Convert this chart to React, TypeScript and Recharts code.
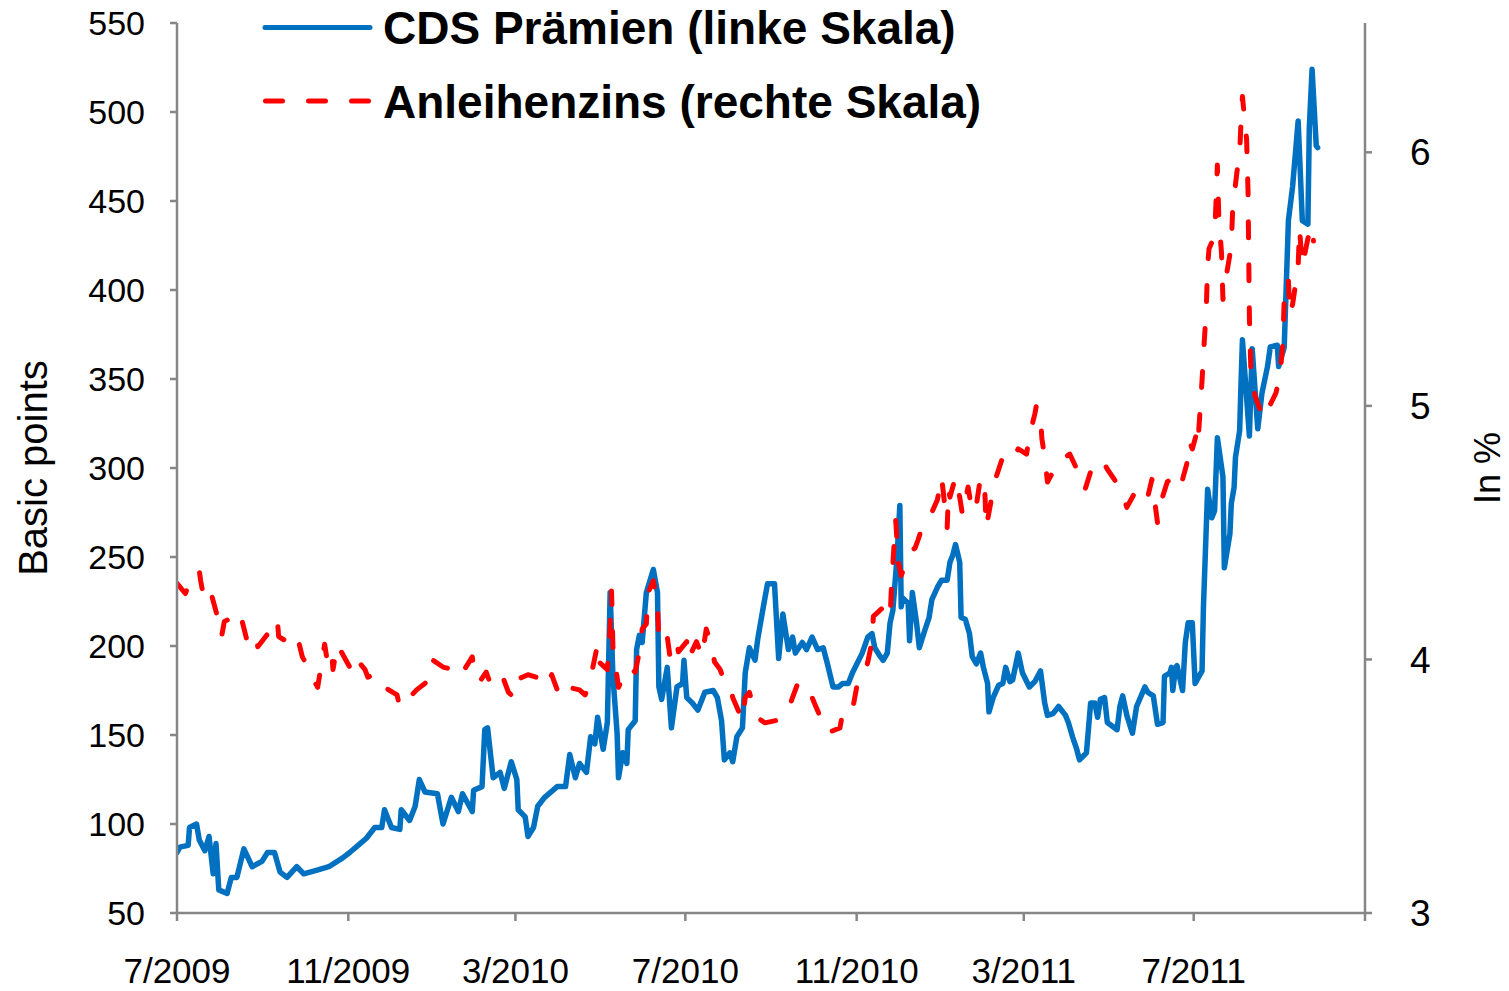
import * as React from "react";
import { LineChart, Line, XAxis, YAxis } from "recharts";

// CDS premiums, basis points (left scale)
const cdsDates = [
  "2009-07-01", "2009-07-03", "2009-07-09", "2009-07-10", "2009-07-15", "2009-07-17", "2009-07-21", "2009-07-24",
  "2009-07-27", "2009-07-29", "2009-07-31", "2009-08-06", "2009-08-09", "2009-08-13", "2009-08-18", "2009-08-24",
  "2009-08-31", "2009-09-04", "2009-09-09", "2009-09-13", "2009-09-18", "2009-09-25", "2009-09-30", "2009-10-09",
  "2009-10-18", "2009-10-28", "2009-11-02", "2009-11-08", "2009-11-14", "2009-11-20", "2009-11-25", "2009-11-27",
  "2009-12-02", "2009-12-08", "2009-12-09", "2009-12-15", "2009-12-19", "2009-12-22", "2009-12-26", "2010-01-04",
  "2010-01-08", "2010-01-14", "2010-01-19", "2010-01-22", "2010-01-29", "2010-01-30", "2010-02-05", "2010-02-07",
  "2010-02-09", "2010-02-13", "2010-02-18", "2010-02-21", "2010-02-26", "2010-03-02", "2010-03-03", "2010-03-08",
  "2010-03-10", "2010-03-14", "2010-03-17", "2010-03-22", "2010-03-31", "2010-04-06", "2010-04-09", "2010-04-13",
  "2010-04-16", "2010-04-21", "2010-04-24", "2010-04-27", "2010-04-29", "2010-05-03", "2010-05-06", "2010-05-08",
  "2010-05-10", "2010-05-13", "2010-05-14", "2010-05-17", "2010-05-20", "2010-05-21", "2010-05-26", "2010-05-27",
  "2010-05-29", "2010-05-31", "2010-06-03", "2010-06-08", "2010-06-11", "2010-06-12", "2010-06-14", "2010-06-18",
  "2010-06-21", "2010-06-25", "2010-06-29", "2010-06-30", "2010-07-02", "2010-07-06", "2010-07-10", "2010-07-15",
  "2010-07-21", "2010-07-24", "2010-07-27", "2010-07-29", "2010-08-02", "2010-08-04", "2010-08-07", "2010-08-11",
  "2010-08-13", "2010-08-16", "2010-08-20", "2010-08-22", "2010-08-26", "2010-08-29", "2010-09-03", "2010-09-06",
  "2010-09-09", "2010-09-13", "2010-09-16", "2010-09-18", "2010-09-23", "2010-09-26", "2010-09-30", "2010-10-04",
  "2010-10-08", "2010-10-11", "2010-10-15", "2010-10-19", "2010-10-22", "2010-10-26", "2010-10-29", "2010-11-05",
  "2010-11-09", "2010-11-12", "2010-11-14", "2010-11-18", "2010-11-20", "2010-11-23", "2010-11-25", "2010-11-27",
  "2010-11-30", "2010-12-02", "2010-12-03", "2010-12-04", "2010-12-08", "2010-12-09", "2010-12-11", "2010-12-14",
  "2010-12-16", "2010-12-20", "2010-12-23", "2010-12-25", "2010-12-29", "2011-01-01", "2011-01-05", "2011-01-07",
  "2011-01-09", "2011-01-11", "2011-01-14", "2011-01-15", "2011-01-18", "2011-01-21", "2011-01-23", "2011-01-26",
  "2011-01-29", "2011-01-31", "2011-02-03", "2011-02-04", "2011-02-07", "2011-02-11", "2011-02-14", "2011-02-16",
  "2011-02-19", "2011-02-21", "2011-02-25", "2011-02-28", "2011-03-05", "2011-03-09", "2011-03-13", "2011-03-16",
  "2011-03-18", "2011-03-22", "2011-03-26", "2011-03-31", "2011-04-02", "2011-04-05", "2011-04-08", "2011-04-10",
  "2011-04-15", "2011-04-18", "2011-04-21", "2011-04-23", "2011-04-25", "2011-04-28", "2011-04-30", "2011-05-07",
  "2011-05-09", "2011-05-11", "2011-05-14", "2011-05-18", "2011-05-21", "2011-05-27", "2011-05-29", "2011-06-02",
  "2011-06-05", "2011-06-09", "2011-06-10", "2011-06-14", "2011-06-15", "2011-06-16", "2011-06-18", "2011-06-19",
  "2011-06-23", "2011-06-25", "2011-06-27", "2011-06-30", "2011-07-02", "2011-07-07", "2011-07-08", "2011-07-11",
  "2011-07-14", "2011-07-16", "2011-07-18", "2011-07-22", "2011-07-23", "2011-07-27", "2011-07-28", "2011-07-30",
  "2011-07-31", "2011-08-03", "2011-08-04", "2011-08-05", "2011-08-10", "2011-08-12", "2011-08-16", "2011-08-19",
  "2011-08-23", "2011-08-25", "2011-08-30", "2011-08-31", "2011-09-03", "2011-09-04", "2011-09-07", "2011-09-10",
  "2011-09-14", "2011-09-17", "2011-09-21", "2011-09-22", "2011-09-24", "2011-09-27", "2011-09-28",
];
const cdsBp = [
  84, 87, 88, 98, 100, 91, 85, 93,
  72, 89, 63, 61, 70, 70, 86, 76,
  79, 84, 84, 73, 70, 76, 72, 74,
  76, 81, 84, 88, 92, 98, 98, 108,
  98, 97, 108, 102, 110, 125, 118, 117,
  100, 115, 107, 117, 107, 119, 121, 153,
  154, 126, 129, 120, 135, 125, 108, 104,
  93, 98, 110, 115, 121, 121, 139, 126,
  134, 129, 149, 145, 160, 142, 157, 230,
  183, 151, 126, 140, 134, 153, 158, 198,
  206, 202, 230, 243, 230, 177, 170, 188,
  154, 177, 179, 192, 171, 168, 164, 174,
  175, 171, 158, 136, 140, 135, 149, 154,
  185, 199, 192, 204, 222, 235, 235, 193,
  218, 198, 205, 196, 202, 198, 205, 198,
  199, 190, 177, 177, 179, 179, 185, 196,
  205, 207, 199, 194, 192, 196, 213, 220,
  250, 279, 222, 227, 224, 203, 230, 213,
  199, 209, 216, 226, 233, 237, 237, 247,
  251, 257, 247, 216, 215, 207, 194, 190,
  196, 188, 179, 163, 171, 178, 179, 188,
  180, 181, 196, 185, 177, 180, 186, 168,
  161, 162, 166, 161, 157, 149, 142, 136,
  140, 168, 168, 160, 170, 171, 157, 153,
  166, 172, 161, 151, 166, 177, 174, 172,
  156, 157, 183, 185, 188, 175, 188, 189,
  175, 202, 213, 213, 179, 186, 222, 288,
  272, 276, 317, 295, 244, 263, 280, 289,
  306, 321, 348, 372, 318, 367, 322, 342,
  357, 368, 369, 357, 365, 368, 439, 458,
  495, 439, 437, 491, 524, 481, 480,
];

// Bond yield, percent (right scale)
const yieldDates = [
  "2009-07-01", "2009-07-07", "2009-07-12", "2009-07-17", "2009-07-18", "2009-07-21", "2009-07-26", "2009-07-30",
  "2009-08-02", "2009-08-04", "2009-08-08", "2009-08-12", "2009-08-15", "2009-08-20", "2009-08-26", "2009-08-28",
  "2009-09-04", "2009-09-11", "2009-09-12", "2009-09-18", "2009-09-25", "2009-09-29", "2009-10-03", "2009-10-07",
  "2009-10-10", "2009-10-15", "2009-10-17", "2009-10-20", "2009-10-21", "2009-10-24", "2009-10-30", "2009-11-04",
  "2009-11-07", "2009-11-13", "2009-11-15", "2009-11-19", "2009-11-26", "2009-11-27", "2009-12-06", "2009-12-08",
  "2009-12-15", "2009-12-20", "2009-12-27", "2009-12-31", "2010-01-08", "2010-01-15", "2010-01-20", "2010-01-29",
  "2010-01-30", "2010-02-03", "2010-02-08", "2010-02-12", "2010-02-16", "2010-02-20", "2010-02-24", "2010-02-28",
  "2010-03-02", "2010-03-10", "2010-03-16", "2010-03-22", "2010-03-24", "2010-03-27", "2010-04-02", "2010-04-08",
  "2010-04-16", "2010-04-20", "2010-04-23", "2010-04-29", "2010-04-30", "2010-05-06", "2010-05-08", "2010-05-09",
  "2010-05-10", "2010-05-13", "2010-05-14", "2010-05-21", "2010-05-26", "2010-05-29", "2010-05-31", "2010-06-03",
  "2010-06-04", "2010-06-08", "2010-06-11", "2010-06-12", "2010-06-13", "2010-06-18", "2010-06-20", "2010-06-25",
  "2010-06-26", "2010-07-02", "2010-07-03", "2010-07-09", "2010-07-13", "2010-07-16", "2010-07-19", "2010-07-22",
  "2010-07-26", "2010-07-28", "2010-08-02", "2010-08-04", "2010-08-11", "2010-08-13", "2010-08-16", "2010-08-18",
  "2010-08-22", "2010-08-27", "2010-09-05", "2010-09-09", "2010-09-12", "2010-09-16", "2010-09-20", "2010-09-23",
  "2010-09-26", "2010-09-30", "2010-10-03", "2010-10-07", "2010-10-11", "2010-10-20", "2010-10-22", "2010-10-27",
  "2010-10-29", "2010-11-01", "2010-11-05", "2010-11-09", "2010-11-12", "2010-11-13", "2010-11-19", "2010-11-25",
  "2010-11-26", "2010-11-29", "2010-12-01", "2010-12-03", "2010-12-09", "2010-12-13", "2010-12-15", "2010-12-18",
  "2010-12-25", "2010-12-29", "2011-01-01", "2011-01-05", "2011-01-06", "2011-01-07", "2011-01-11", "2011-01-14",
  "2011-01-16", "2011-01-20", "2011-01-23", "2011-01-26", "2011-01-29", "2011-02-01", "2011-02-02", "2011-02-08",
  "2011-02-14", "2011-02-19", "2011-02-25", "2011-03-03", "2011-03-05", "2011-03-09", "2011-03-10", "2011-03-13",
  "2011-03-14", "2011-03-16", "2011-03-18", "2011-03-21", "2011-03-23", "2011-03-29", "2011-04-03", "2011-04-09",
  "2011-04-14", "2011-04-18", "2011-04-21", "2011-04-26", "2011-04-30", "2011-05-05", "2011-05-10", "2011-05-14",
  "2011-05-20", "2011-05-25", "2011-05-29", "2011-06-01", "2011-06-05", "2011-06-06", "2011-06-08", "2011-06-12",
  "2011-06-16", "2011-06-19", "2011-06-23", "2011-06-26", "2011-06-28", "2011-06-30", "2011-07-03", "2011-07-04",
  "2011-07-07", "2011-07-08", "2011-07-10", "2011-07-11", "2011-07-12", "2011-07-16", "2011-07-17", "2011-07-18",
  "2011-07-19", "2011-07-21", "2011-07-22", "2011-07-24", "2011-07-28", "2011-07-29", "2011-08-01", "2011-08-03",
  "2011-08-04", "2011-08-05", "2011-08-08", "2011-08-09", "2011-08-10", "2011-08-11", "2011-08-14", "2011-08-20",
  "2011-08-29", "2011-09-01", "2011-09-03", "2011-09-04", "2011-09-07", "2011-09-08", "2011-09-10", "2011-09-14",
  "2011-09-15", "2011-09-17", "2011-09-21", "2011-09-24", "2011-09-25",
];
const yieldPct = [
  4.30, 4.26, 4.33, 4.35, 4.31, 4.22, 4.25, 4.17,
  4.09, 4.15, 4.16, 4.17, 4.19, 4.08, 4.11, 4.05,
  4.10, 4.16, 4.09, 4.07, 4.10, 4.01, 3.97, 3.92,
  3.89, 4.06, 3.99, 4.03, 3.96, 4.06, 4.00, 3.95,
  4.00, 3.96, 3.93, 3.94, 3.92, 3.89, 3.86, 3.81,
  3.85, 3.88, 3.91, 4.00, 3.97, 3.96, 3.93, 4.01,
  3.97, 3.91, 3.95, 3.89, 3.91, 3.93, 3.87, 3.85,
  3.92, 3.94, 3.93, 3.93, 3.90, 3.94, 3.85, 3.89,
  3.88, 3.86, 3.90, 4.06, 3.99, 3.96, 4.13, 4.27,
  4.05, 3.93, 3.89, 3.97, 3.95, 4.03, 4.12, 4.14,
  4.26, 4.31, 4.21, 4.08, 4.06, 4.09, 4.01, 4.07,
  4.03, 4.07, 4.00, 4.07, 4.01, 4.12, 4.07, 3.99,
  3.96, 3.93, 3.91, 3.85, 3.76, 3.85, 3.87, 3.83,
  3.77, 3.75, 3.76, 3.77, 3.79, 3.85, 3.91, 3.89,
  3.89, 3.85, 3.81, 3.76, 3.71, 3.73, 3.79, 3.81,
  3.80, 3.89, 3.91, 3.99, 4.07, 4.17, 4.20, 4.16,
  4.29, 4.55, 4.38, 4.33, 4.42, 4.44, 4.47, 4.52,
  4.58, 4.63, 4.72, 4.52, 4.67, 4.64, 4.72, 4.64,
  4.57, 4.68, 4.58, 4.61, 4.72, 4.67, 4.52, 4.70,
  4.80, 4.78, 4.83, 4.81, 4.88, 4.97, 5.00, 4.96,
  4.87, 4.80, 4.70, 4.73, 4.77, 4.79, 4.81, 4.74,
  4.67, 4.74, 4.76, 4.79, 4.75, 4.71, 4.66, 4.60,
  4.66, 4.68, 4.64, 4.71, 4.54, 4.60, 4.63, 4.70,
  4.72, 4.75, 4.71, 4.77, 4.86, 4.83, 4.89, 4.85,
  5.10, 5.20, 5.38, 5.55, 5.62, 5.67, 5.80, 5.95,
  5.75, 5.60, 5.42, 5.50, 5.63, 5.78, 5.92, 6.00,
  6.12, 6.22, 6.05, 5.85, 5.35, 5.15, 5.04, 4.95,
  5.05, 5.12, 5.25, 5.42, 5.50, 5.36, 5.40, 5.55,
  5.70, 5.55, 5.66, 5.71, 5.65,
];

const xTickDates = ["2009-07-01", "2009-11-01", "2010-03-01", "2010-07-01", "2010-11-01", "2011-03-01", "2011-07-01", "2011-11-01"];
const xTickLabels = ["7/2009", "11/2009", "3/2010", "7/2010", "11/2010", "3/2011", "7/2011", ""];
const leftTicks = [50, 100, 150, 200, 250, 300, 350, 400, 450, 500, 550];
const rightTicks = [3, 4, 5, 6];

const toTime = (d: string) =>
  Date.UTC(Number(d.slice(0, 4)), Number(d.slice(5, 7)) - 1, Number(d.slice(8, 10)));

const cdsData = cdsDates.map((d, i) => ({ t: toTime(d), v: cdsBp[i] }));
const yieldData = yieldDates.map((d, i) => ({ t: toTime(d), v: yieldPct[i] }));
const xTicks = xTickDates.map(toTime);
const tickLabel = new Map(xTicks.map((t, i) => [t, xTickLabels[i]]));

const FONT = '"Liberation Sans", Arial, sans-serif';
const AXIS = "#868686";
const BLUE = "#0070C0";
const RED = "#FF0000";

function axisTitle(text: string, dx: number, fontSize: number) {
  return (props: any) => {
    const vb = props.viewBox || {};
    const x = vb.x + dx;
    const y = vb.y + vb.height / 2;
    return (
      <text
        x={x}
        y={y}
        transform={`rotate(-90 ${x} ${y})`}
        textAnchor="middle"
        dominantBaseline="central"
        fontFamily={FONT}
        fontSize={fontSize}
        fill="#000"
      >
        {text}
      </text>
    );
  };
}

export default function App() {
  return (
    <div style={{ position: "absolute", left: 0, top: 0, width: 1509, height: 991, background: "#fff" }}>
      <LineChart width={1509} height={991} margin={{ top: 23, right: 0, bottom: 0, left: 0 }}>
        <XAxis
          type="number"
          dataKey="t"
          domain={[xTicks[0], xTicks[xTicks.length - 1]]}
          ticks={xTicks}
          allowDataOverflow
          height={78}
          tickFormatter={(t: number) => tickLabel.get(t) ?? ""}
          axisLine={{ stroke: AXIS, strokeWidth: 2.5 }}
          tickLine={{ stroke: AXIS, strokeWidth: 2.5 }}
          tickSize={8}
          tickMargin={37}
          tick={{ fill: "#000", fontSize: 35, fontFamily: FONT }}
          interval={0}
        />
        <YAxis
          yAxisId="left"
          width={177}
          domain={[50, 550]}
          ticks={leftTicks}
          allowDataOverflow
          interval={0}
          axisLine={{ stroke: AXIS, strokeWidth: 2.5 }}
          tickLine={{ stroke: AXIS, strokeWidth: 2.5 }}
          tickSize={7}
          tickMargin={25}
          tick={{ fill: "#000", fontSize: 34, fontFamily: FONT }}
          label={{ content: axisTitle("Basic points", 33, 40) }}
        />
        <YAxis
          yAxisId="right"
          orientation="right"
          width={144}
          domain={[3, 6.51]}
          ticks={rightTicks}
          allowDataOverflow
          interval={0}
          axisLine={{ stroke: AXIS, strokeWidth: 2.5 }}
          tickLine={{ stroke: AXIS, strokeWidth: 2.5 }}
          tickSize={7}
          tickMargin={38}
          tick={{ fill: "#000", fontSize: 37, fontFamily: FONT }}
          label={{ content: axisTitle("In %", 122, 36) }}
        />
        <Line
          yAxisId="left"
          data={cdsData}
          dataKey="v"
          type="linear"
          stroke={BLUE}
          strokeWidth={5.5}
          strokeLinejoin="round"
          strokeLinecap="round"
          dot={false}
          activeDot={false}
          isAnimationActive={false}
        />
        <Line
          yAxisId="right"
          data={yieldData}
          dataKey="v"
          type="linear"
          stroke={RED}
          strokeWidth={5}
          strokeDasharray="16 27"
          strokeLinejoin="round"
          strokeLinecap="round"
          dot={false}
          activeDot={false}
          isAnimationActive={false}
        />
      </LineChart>
      <svg width={1000} height={130} style={{ position: "absolute", left: 0, top: 0 }}>
        <line x1={265} y1={27.5} x2={370} y2={27.5} stroke={BLUE} strokeWidth={5} strokeLinecap="round" />
        <text x={383} y={44} fontFamily={FONT} fontWeight="bold" fontSize={46} fill="#000">
          CDS Prämien (linke Skala)
        </text>
        <line
          x1={265.5}
          y1={101}
          x2={370}
          y2={101}
          stroke={RED}
          strokeWidth={5}
          strokeLinecap="round"
          strokeDasharray="17 26"
        />
        <text x={383} y={118} fontFamily={FONT} fontWeight="bold" fontSize={46} fill="#000">
          Anleihenzins (rechte Skala)
        </text>
      </svg>
    </div>
  );
}
